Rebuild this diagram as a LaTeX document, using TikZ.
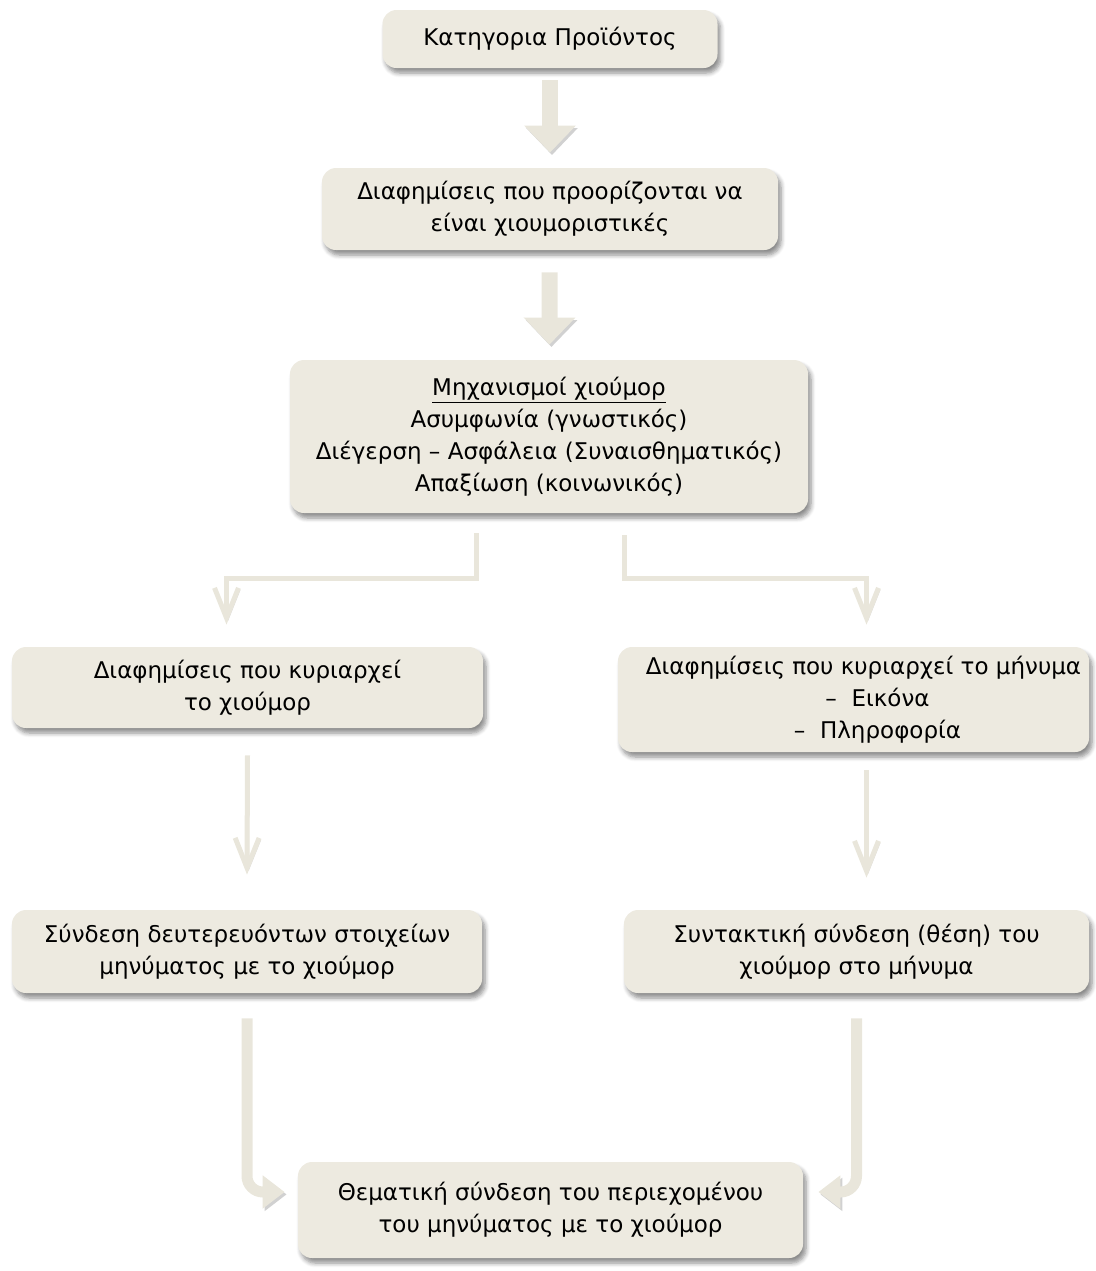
\documentclass[tikz,border=0pt]{standalone}
\usepackage{fontspec}
\setmainfont{DejaVu Sans}
\usetikzlibrary{arrows.meta, shadows.blur, calc}

\definecolor{boxfill}{RGB}{237,234,224}
\definecolor{arrowfill}{RGB}{233,230,219}

\tikzset{
    box/.style={fill=boxfill, rounded corners=7pt, align=center, inner sep=0pt,
        font=\fontsize{11.5}{16}\selectfont,
        blur shadow={shadow xshift=1.5pt, shadow yshift=-2.5pt, shadow blur steps=6, shadow opacity=45}},
    bigarrow/.style={draw=arrowfill, line width=8pt, -{Triangle[length=13.5pt,width=25pt]},
        preaction={draw=black!18, transform canvas={shift={(1pt,-1.2pt)}}}},
    thinarrow/.style={draw=arrowfill, line width=2.5pt, -{Straight Barb[length=15pt,width=12pt]},
        preaction={draw=black!15, transform canvas={shift={(0.8pt,-1pt)}}}},
    bendarrow/.style={draw=arrowfill, line width=5.5pt, rounded corners=8pt, -{Triangle[length=11pt,width=16pt]},
        preaction={draw=black!18, transform canvas={shift={(1pt,-1.2pt)}}}}
}

\begin{document}
\begin{tikzpicture}[x=0.5pt, y=-0.5pt]
    \useasboundingbox (0,0) rectangle (1096,1271);

    \node[box, minimum width=167.5pt, minimum height=29pt] (cat) at (550,39) {Κατηγορια Προϊόντος};
    \node[box, minimum width=228pt, minimum height=41pt] (intended) at (550,209)
        {Διαφημίσεις που προορίζονται να\\είναι χιουμοριστικές};
    \node[box, minimum width=259pt, minimum height=76.5pt] (mech) at (549,436.5)
        {\underline{Μηχανισμοί χιούμορ}\\Ασυμφωνία (γνωστικός)\\Διέγερση – Ασφάλεια (Συναισθηματικός)\\Απαξίωση (κοινωνικός)};

    \node[box, minimum width=235.5pt, minimum height=40.5pt] (humor) at (247.5,687.5)
        {Διαφημίσεις που κυριαρχεί\\το χιούμορ};
    \node[box, minimum width=235.5pt, minimum height=52.5pt] (message) at (853.5,699.5)
        {\hspace*{10pt}Διαφημίσεις που κυριαρχεί το μήνυμα\\\hspace*{24pt}–\ \ Εικόνα\\\hspace*{24pt}–\ \ Πληροφορία};

    \node[box, minimum width=235pt, minimum height=41.5pt] (secondary) at (247,951.5)
        {Σύνδεση δευτερευόντων στοιχείων\\μηνύματος με το χιούμορ};
    \node[box, minimum width=232.5pt, minimum height=41.5pt] (syntax) at (856.5,951.5)
        {Συντακτική σύνδεση (θέση) του\\χιούμορ στο μήνυμα};

    \node[box, minimum width=252.5pt, minimum height=48pt] (theme) at (550.5,1210)
        {Θεματική σύνδεση του περιεχομένου\\του μηνύματος με το χιούμορ};

    \draw[bigarrow, shorten <=6pt, shorten >=7.5pt] (cat) -- (intended);
    \draw[bigarrow, shorten <=11pt, shorten >=7.5pt] (intended) -- (mech);

    \draw[thinarrow] ([xshift=-36.5pt, yshift=-10pt]mech.south) -- ++(0,-22.5pt)
        -| ([xshift=-10.5pt, yshift=11pt]humor.north);
    \draw[thinarrow] ([xshift=37.5pt, yshift=-11pt]mech.south) -- ++(0,-21.5pt)
        -| ([xshift=6.5pt, yshift=11pt]message.north);

    \draw[thinarrow] ([yshift=-13.5pt]humor.south) -- ([yshift=17.5pt]secondary.north);
    \draw[thinarrow] ([xshift=6.5pt, yshift=-9pt]message.south) -- ([xshift=5pt, yshift=16pt]syntax.north);

    \draw[bendarrow] ([yshift=-12.5pt]secondary.south) |- ([xshift=-6.5pt, yshift=9pt]theme.west);
    \draw[bendarrow] ([yshift=-12.5pt]syntax.south) |- ([xshift=7.5pt, yshift=9pt]theme.east);
\end{tikzpicture}
\end{document}
